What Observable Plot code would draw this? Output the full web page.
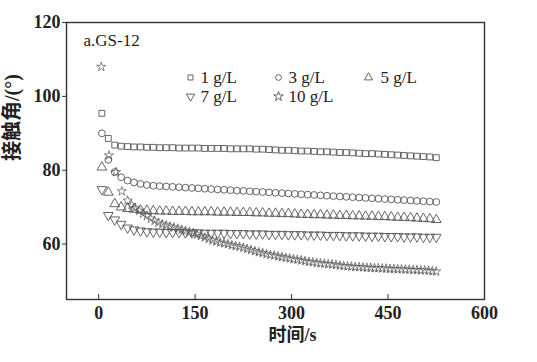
<!DOCTYPE html>
<html><head><meta charset="utf-8">
<script src="https://cdn.jsdelivr.net/npm/d3@7"></script>
<script src="https://cdn.jsdelivr.net/npm/@observablehq/plot@0.6"></script>
<style>body{margin:0;background:#fff}#chart{width:537px;height:362px}</style>
</head><body><div id="chart"></div>
<script>
const seriesNames = ["1 g/L", "3 g/L", "5 g/L", "7 g/L", "10 g/L"];
const panelLabel = "a.GS-12";
const xLabel = "时间/s";
const yLabel = "接触角/(°)";
const xTicks = [0, 150, 300, 450, 600];
const yTicks = [60, 80, 100, 120];

const time = [5,15,25,35,45,55,65,75,85,95,105,115,125,135,145,155,165,175,185,195,205,215,225,235,245,255,265,275,285,295,305,315,325,335,345,355,365,375,385,395,405,415,425,435,445,455,465,475,485,495,505,515,525];
const c1 = [95.4,88.6,86.8,86.5,86.4,86.3,86.3,86.2,86.2,86.1,86.1,86.1,86.0,86.0,86.0,86.0,85.9,85.9,85.9,85.9,85.8,85.8,85.8,85.8,85.7,85.7,85.6,85.5,85.4,85.4,85.3,85.2,85.2,85.1,85.0,85.0,84.9,84.8,84.8,84.7,84.6,84.5,84.5,84.4,84.3,84.2,84.1,84.0,83.9,83.8,83.7,83.6,83.4];
const c3 = [90.0,82.8,79.5,78.1,77.2,76.7,76.3,76.0,75.8,75.7,75.6,75.5,75.4,75.3,75.2,75.1,75.0,74.9,74.8,74.7,74.6,74.5,74.4,74.3,74.2,74.1,74.0,73.9,73.8,73.7,73.6,73.5,73.4,73.3,73.2,73.1,73.0,72.9,72.8,72.7,72.6,72.5,72.4,72.3,72.2,72.1,72.0,71.9,71.8,71.7,71.6,71.5,71.4];
const c5 = [80.8,74.0,70.9,70.0,69.6,69.4,69.2,69.1,69.0,68.9,68.9,68.8,68.8,68.8,68.7,68.7,68.7,68.7,68.6,68.6,68.6,68.5,68.5,68.5,68.4,68.4,68.3,68.3,68.2,68.2,68.1,68.0,68.0,67.9,67.9,67.8,67.8,67.7,67.7,67.6,67.6,67.5,67.5,67.4,67.4,67.3,67.2,67.2,67.1,67.0,66.9,66.8,66.6];
const c7 = [74.8,67.8,66.6,65.4,64.4,63.9,63.6,63.4,63.3,63.3,63.2,63.2,63.2,63.1,63.1,63.1,63.0,63.0,63.0,63.0,62.9,62.9,62.9,62.8,62.8,62.8,62.7,62.7,62.7,62.6,62.6,62.6,62.5,62.5,62.5,62.4,62.4,62.4,62.3,62.3,62.3,62.2,62.2,62.2,62.1,62.1,62.1,62.0,62.0,62.0,61.9,61.9,61.9];

const timeStar = [4,16,27,36,45,51,57,63,69,75,81,87,93,99,105,111,117,123,129,135,141,147,153,159,165,171,177,183,189,195,201,207,213,219,225,231,237,243,249,255,261,267,273,279,285,291,297,303,309,315,321,327,333,339,345,351,357,363,369,375,381,387,393,399,405,411,417,423,429,435,441,447,453,459,465,471,477,483,489,495,501,507,513,519,525];
const c10 = [108.0,84.0,79.5,74.3,71.8,70.6,69.8,69.0,68.3,67.6,66.9,66.3,65.8,65.4,65.1,64.8,64.5,64.2,63.9,63.6,63.3,63.0,62.6,62.2,61.8,61.4,61.0,60.7,60.4,60.2,60.0,59.7,59.5,59.3,59.0,58.7,58.4,58.1,57.8,57.6,57.3,57.1,56.9,56.7,56.5,56.3,56.1,55.9,55.8,55.6,55.4,55.2,55.1,54.9,54.8,54.7,54.6,54.5,54.4,54.2,54.1,54.0,53.9,53.8,53.8,53.7,53.6,53.6,53.5,53.5,53.4,53.4,53.3,53.3,53.2,53.2,53.1,53.1,53.0,53.0,52.9,52.9,52.8,52.7,52.6];

const triangleDown = {
  draw(ctx, size) {
    const y = -Math.sqrt(size / (3 * Math.sqrt(3)));
    ctx.moveTo(0, -2 * y);
    ctx.lineTo(-Math.sqrt(3) * y, y);
    ctx.lineTo(Math.sqrt(3) * y, y);
    ctx.closePath();
  }
};
const symbols = ["square", "circle", "triangle", triangleDown, "star"];
const values = [c1, c3, c5, c7, c10];
const times = [time, time, time, time, timeStar];
const radii = [3.3, 3.4, 3.6, 3.6, 2.9];
const widths = [0.9, 0.9, 0.9, 0.9, 0.7];

const rows = (i) => values[i].map((v, j) => ({t: times[i][j], v}));

// legend layout (offsets from top-left of frame)
const legendPos = [[124, 55], [212, 55], [302, 55], [124, 74], [212, 74]];

const ink = "#555";
const marks = [
  Plot.frame({stroke: "#333", strokeWidth: 1.4}),
  Plot.axisX({ticks: xTicks, tickSize: -5, tickPadding: 12, fontSize: 18, fontWeight: "bold", label: null, stroke: "#333", fill: "#222"}),
  Plot.axisY({ticks: yTicks, tickSize: 4, tickPadding: 2, fontSize: 18, fontWeight: "bold", label: null, stroke: "#333", fill: "#222"})
];
for (let i = 0; i < 5; i++) {
  marks.push(Plot.dot(rows(i), {x: "t", y: "v", symbol: symbols[i], r: radii[i], stroke: ink, strokeWidth: widths[i], fill: "none"}));
  marks.push(Plot.dot([seriesNames[i]], {frameAnchor: "top-left", dx: legendPos[i][0], dy: legendPos[i][1], symbol: symbols[i], r: i === 4 ? 3 : radii[i] * 0.85, stroke: ink, strokeWidth: 0.9, fill: "none"}));
  marks.push(Plot.text([seriesNames[i]], {text: d => d, frameAnchor: "top-left", dx: legendPos[i][0] + (i === 2 ? 12 : 10), dy: legendPos[i][1], textAnchor: "start", lineAnchor: "middle", fontSize: 17, fill: "#222"}));
}
marks.push(Plot.text([panelLabel], {text: d => d, frameAnchor: "top-left", dx: 17, dy: 18, textAnchor: "start", lineAnchor: "middle", fontSize: 17, fill: "#222"}));
marks.push(Plot.text([xLabel], {text: d => d, frameAnchor: "bottom", dx: 17, dy: 36, lineAnchor: "middle", fontSize: 18, fontWeight: "bold", fill: "#222"}));
marks.push(Plot.text([yLabel], {text: d => d, frameAnchor: "left", dx: -54, rotate: -90, lineAnchor: "middle", fontSize: 20, fontWeight: "bold", fill: "#222"}));

const chart = Plot.plot({
  width: 537, height: 362,
  marginLeft: 66, marginRight: 53, marginTop: 22, marginBottom: 63,
  x: {domain: [-50, 600]},
  y: {domain: [45, 120]},
  style: {fontFamily: "'Liberation Serif', 'Noto Sans CJK SC', serif", background: "#fff", overflow: "visible"},
  marks
});
document.getElementById("chart").appendChild(chart);
</script>
</body></html>
